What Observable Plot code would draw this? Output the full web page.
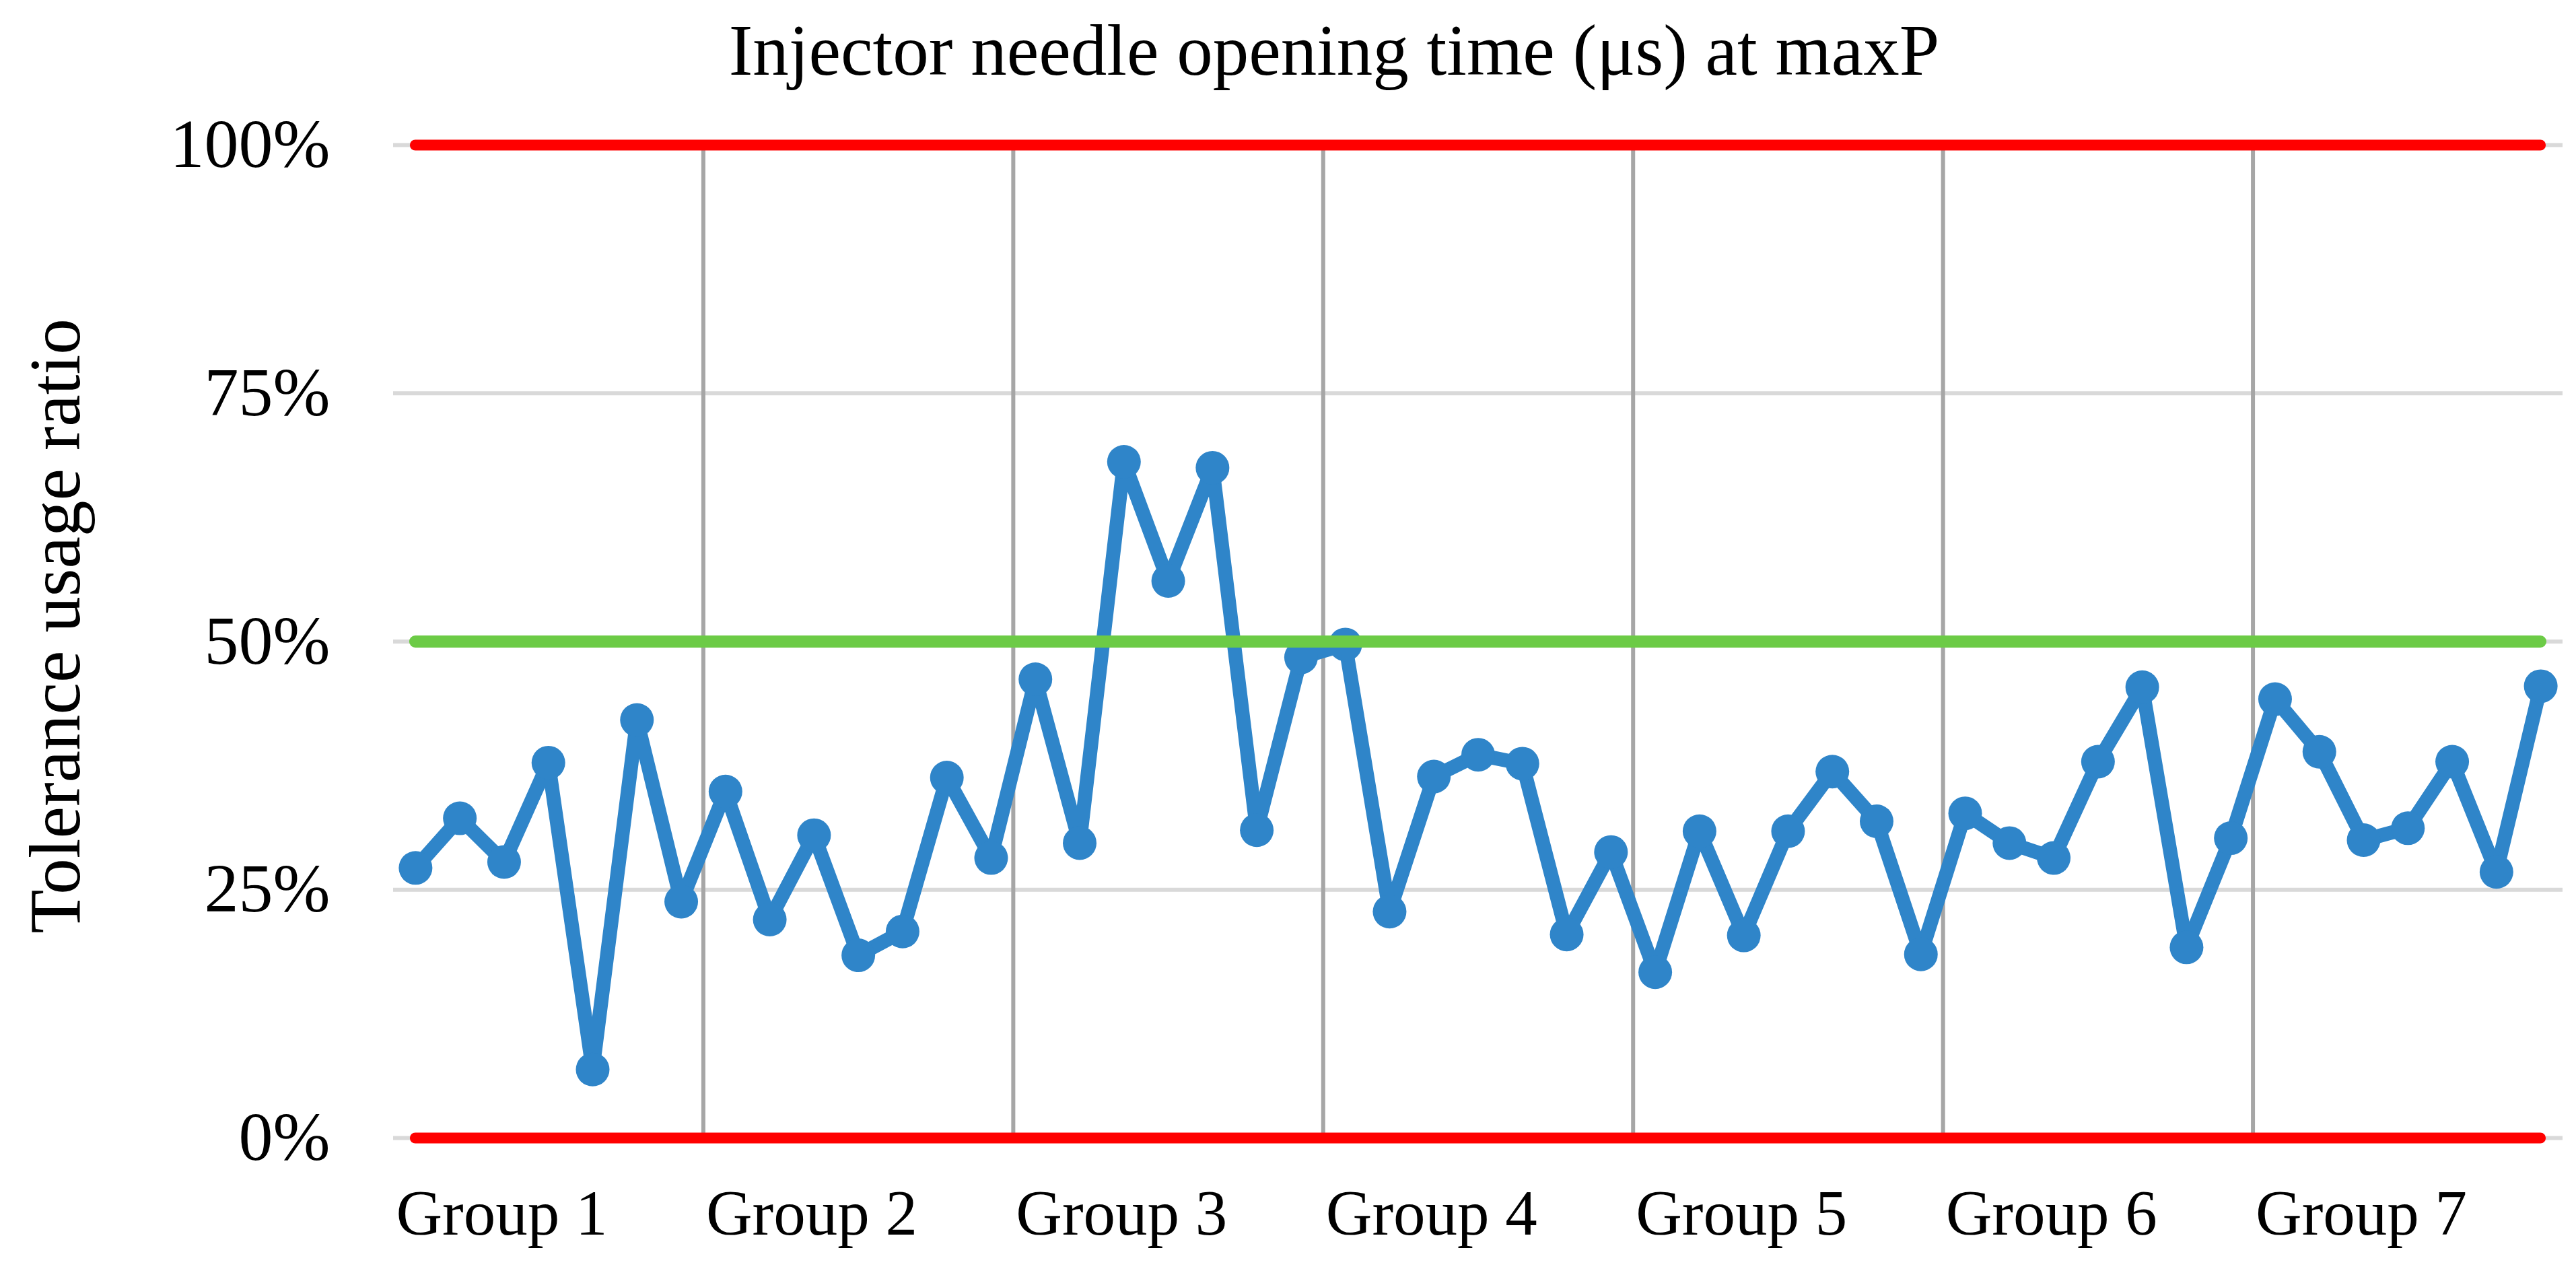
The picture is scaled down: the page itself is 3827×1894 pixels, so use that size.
<!DOCTYPE html>
<html>
<head>
<meta charset="utf-8">
<script src="https://cdn.jsdelivr.net/npm/d3@7"></script>
<script src="https://cdn.jsdelivr.net/npm/@observablehq/plot@0.6"></script>
<style>
  html, body { margin: 0; padding: 0; background: #ffffff; }
  #title {
    width: 3827px; height: 160px; box-sizing: border-box;
    padding-left: 137px; text-align: center;
    font-family: "Liberation Serif", "Times New Roman", serif;
    font-size: 107px; line-height: 150px; color: #000;
    white-space: nowrap;
  }
</style>
</head>
<body>
<div id="title">Injector needle opening time (μs) at maxP</div>
<div id="chart"></div>
<script>
// ---- data ----
const groups = ["Group 1", "Group 2", "Group 3", "Group 4", "Group 5", "Group 6", "Group 7"];
const group1 = [27.2, 32.2, 27.8, 37.8, 6.9, 42.1, 23.8];
const group2 = [34.9, 22.0, 30.5, 18.4, 20.8, 36.3, 28.2];
const group3 = [46.2, 29.7, 68.1, 56.1, 67.5, 31.0, 48.4];
const group4 = [49.7, 22.8, 36.4, 38.6, 37.7, 20.5, 28.8];
const group5 = [16.7, 30.9, 20.4, 30.9, 36.9, 31.9, 18.5];
const group6 = [32.7, 29.7, 28.2, 37.9, 45.4, 19.2, 30.2];
const group7 = [44.2, 38.9, 30.0, 31.2, 37.9, 26.8, 45.5];
const yTicks = [0, 25, 50, 75, 100];
const limitLines = [0, 100];   // red tolerance limits
const targetLine = [50];       // green reference
const yLabel = "Tolerance usage ratio";

// ---- build table ----
const groupValues = [group1, group2, group3, group4, group5, group6, group7];
const perGroup = group1.length;
const data = [];
groupValues.forEach((vals, g) => vals.forEach((v, j) => data.push({i: g * perGroup + j, v, group: groups[g]})));
const n = data.length;
const groupStarts = groups.map((g, k) => k * perGroup - 0.5);
const separators = groupStarts.slice(1);

const chart = Plot.plot({
  width: 3827,
  height: 1734,
  marginLeft: 584,
  marginRight: 20,
  marginTop: 55,
  marginBottom: 204,
  style: {fontFamily: "'Liberation Serif', 'Times New Roman', serif", background: "#ffffff", color: "#000", overflow: "visible"},
  x: {domain: [-0.5, n - 0.5], axis: null},
  y: {domain: [0, 100], axis: null},
  marks: [
    Plot.gridY({ticks: yTicks, stroke: "#D9D9D9", strokeOpacity: 1, strokeWidth: 6}),
    Plot.ruleX(separators, {y1: 0, y2: 100, stroke: "#A6A6A6", strokeWidth: 6}),
    Plot.axisY({ticks: yTicks, tickFormat: d => d + "%", tickSize: 0, tickPadding: 94, fontSize: 102, label: null}),
    Plot.axisX({ticks: groupStarts, tickFormat: d => groups[Math.round((d + 0.5) / perGroup)], tickSize: 0, tickPadding: 76, textAnchor: "start", dx: 4, fontSize: 95, label: null}),
    Plot.text([yLabel], {frameAnchor: "left", rotate: -90, lineAnchor: "bottom", textAnchor: "middle", dx: -467, dy: -23, fontSize: 107, fill: "#000"}),
    Plot.line(data, {x: "i", y: "v", stroke: "#2F85C9", strokeWidth: 21, strokeLinejoin: "round", strokeLinecap: "round"}),
    Plot.dot(data, {x: "i", y: "v", r: 25, fill: "#2F85C9", stroke: "none"}),
    Plot.ruleY(targetLine, {x1: 0, x2: n - 1, stroke: "#6CCB46", strokeWidth: 18, strokeLinecap: "round"}),
    Plot.ruleY(limitLines, {x1: 0, x2: n - 1, stroke: "#FF0000", strokeWidth: 16, strokeLinecap: "round"})
  ]
});
document.getElementById("chart").appendChild(chart);
</script>
</body>
</html>
